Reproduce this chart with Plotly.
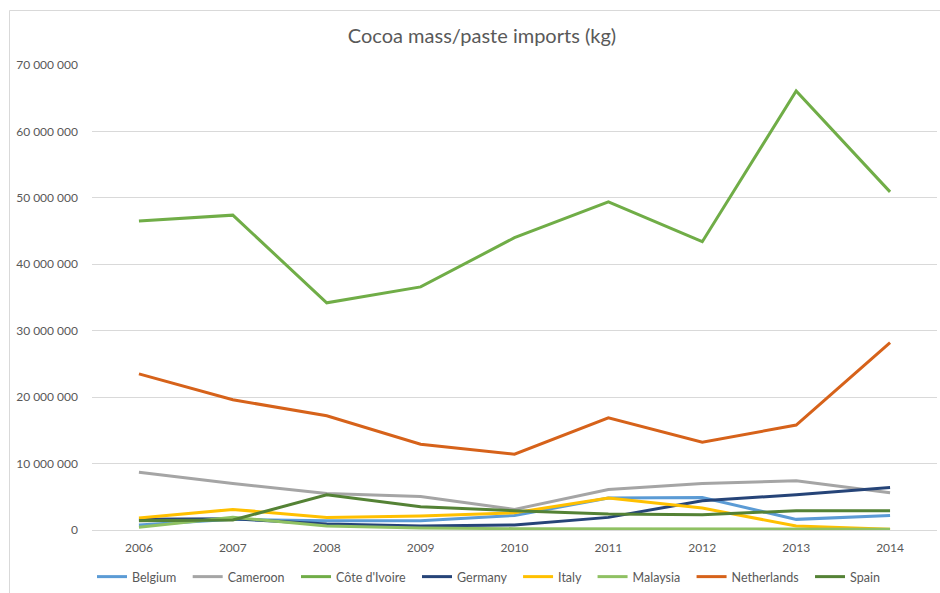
import plotly.graph_objects as go

years = ["2006", "2007", "2008", "2009", "2010", "2011", "2012", "2013", "2014"]

belgium = [750000, 1600000, 1400000, 1400000, 2200000, 4800000, 4900000, 1600000, 2200000]
cameroon = [8700000, 7000000, 5500000, 5050000, 3100000, 6100000, 7000000, 7400000, 5600000]
cote_divoire = [46500000, 47400000, 34200000, 36600000, 44000000, 49400000, 43400000, 66100000, 50900000]
germany = [1600000, 1700000, 900000, 600000, 750000, 1900000, 4400000, 5300000, 6400000]
italy = [1800000, 3100000, 1900000, 2100000, 2600000, 4800000, 3300000, 600000, 100000]
malaysia = [400000, 1900000, 600000, 300000, 200000, 200000, 200000, 200000, 100000]
netherlands = [23500000, 19600000, 17200000, 12900000, 11400000, 16900000, 13200000, 15800000, 28200000]
spain = [1400000, 1500000, 5300000, 3500000, 2900000, 2400000, 2300000, 2900000, 2900000]

series = [
    ("Belgium", belgium, "#5B9BD5"),
    ("Cameroon", cameroon, "#A5A5A5"),
    ("Côte d'Ivoire", cote_divoire, "#70AD47"),
    ("Germany", germany, "#264478"),
    ("Italy", italy, "#FFC000"),
    ("Malaysia", malaysia, "#8FC163"),
    ("Netherlands", netherlands, "#D6621A"),
    ("Spain", spain, "#548235"),
]

font_family = "Lato, 'Open Sans', sans-serif"
text_color = "#595959"
grid_color = "#D9D9D9"
legend_pad = "\u00a0" * 2  # extra spacing between legend entries

fig = go.Figure()
for name, values, color in series:
    fig.add_trace(go.Scatter(
        x=years, y=values, name=name + legend_pad, mode="lines",
        line=dict(color=color, width=3),
        hovertemplate=name + ": %{y}<extra></extra>",
    ))

# plot area in pixels: left 92, right 937, top 65, bottom 530
L, R, T, B = 92, 937, 65, 530
W, H = 940, 593
pw, ph = R - L, B - T

def px_x(p):
    return (p - L) / pw

def px_y(p):
    return (B - p) / ph

fig.update_layout(
    width=W, height=H,
    margin=dict(l=L, r=W - R, t=T, b=H - B, autoexpand=False),
    paper_bgcolor="white", plot_bgcolor="white",
    separators=". ",
    font=dict(family=font_family, color=text_color, size=12),
    title=dict(
        text="Cocoa mass/paste imports (kg)",
        x=482 / W, xanchor="center",
        y=1 - 36 / H, yanchor="middle",
        font=dict(size=20, color=text_color, family=font_family),
    ),
    xaxis=dict(
        type="category",
        range=[-0.5, 8.5],
        showgrid=False,
        showline=False,
        zeroline=False,
        ticks="",
        ticklabelstandoff=9,
        tickfont=dict(size=12, color=text_color),
    ),
    yaxis=dict(
        range=[0, 70000000],
        tickvals=[0, 10000000, 20000000, 30000000, 40000000, 50000000, 60000000, 70000000],
        tickformat=",d",
        showgrid=True, gridcolor=grid_color, gridwidth=1,
        zeroline=True, zerolinecolor=grid_color, zerolinewidth=1,
        showline=False,
        ticks="",
        ticklabelstandoff=13,
        tickfont=dict(size=12, color=text_color),
    ),
    legend=dict(
        orientation="h",
        x=px_x(92), xanchor="left",
        y=px_y(577), yanchor="middle",
        itemwidth=30,
        tracegroupgap=0,
        font=dict(size=12.5, color=text_color, family=font_family),
        bgcolor="rgba(0,0,0,0)",
    ),
    shapes=[
        dict(
            type="path", xref="paper", yref="paper",
            path=f"M {px_x(9.5)} {px_y(600)} L {px_x(9.5)} {px_y(10.5)} L {px_x(945)} {px_y(10.5)}",
            line=dict(color="#D9D9D9", width=1),
            layer="below",
        )
    ],
)

fig.write_html("out.html")
